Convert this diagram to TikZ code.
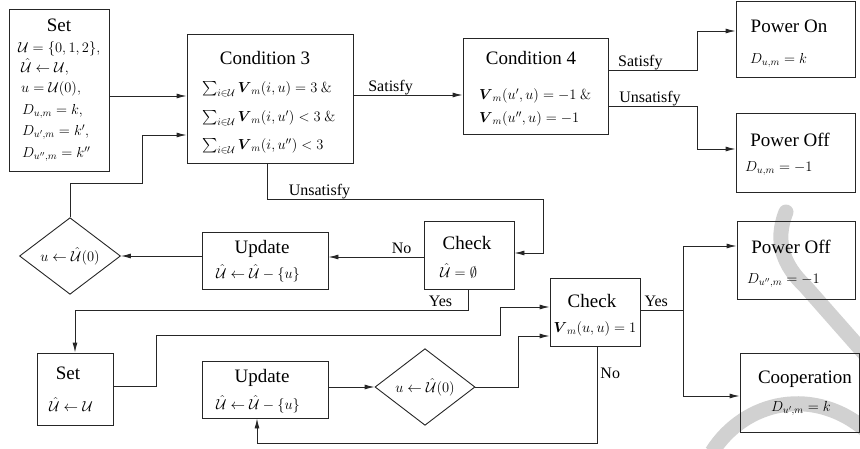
\RequirePackage{fix-cm}
\documentclass[tikz,border=0pt]{standalone}
\usepackage{amsmath}
\usepackage[no-math]{fontspec}
\setmainfont{Liberation Serif}
\newfontfamily\boxfont{Liberation Serif}
\usetikzlibrary{shapes.geometric,arrows.meta}
\begin{document}
\begin{tikzpicture}[x=1pt,y=-1pt]
	\tikzstyle{Box} = [rectangle, draw=black!85, line width=0.9pt, inner sep=0pt]
	\tikzstyle{Dia} = [diamond, draw=black!85, line width=0.9pt, inner sep=0pt, font=\fontsize{14.5}{17}\selectfont]
	\tikzstyle{Title} = [inner sep=0pt, text height=13pt, text depth=0pt, font=\boxfont\fontsize{19}{23}\selectfont]
	\tikzstyle{Math} = [inner sep=0pt, text height=9pt, text depth=0pt, font=\fontsize{14.5}{17}\selectfont]
	\tikzstyle{Lbl} = [inner sep=0pt, text height=11pt, text depth=0pt, font=\boxfont\fontsize{16}{19}\selectfont]
	\tikzstyle{Arr} = [-{Latex[length=10pt,width=5pt]}, draw=black!85, line width=0.9pt]
	\useasboundingbox (0,0) rectangle (860,448);
	% watermark
	\draw [black!18, line width=15pt, line cap=round] (786,212) .. controls (774,242) and (784,266) .. (805,286) -- (872,362);
	\draw [black!18, line width=15pt] (712,452) .. controls (745,400) and (815,385) .. (868,432);
	% first set
	\node (set1) at (59,90) [Box, minimum width=100, minimum height=162] {};
	\node (set1t) at (59,25) [Title] {Set};
	\node (set1a) at (18,48) [Math, anchor=west] {$\mathcal{U}=\{0,1,2\},$};
	\node (set1b) at (21,68) [Math, anchor=west] {$\hat{\mathcal{U}}\leftarrow\mathcal{U},$};
	\node (set1c) at (21,88) [Math, anchor=west] {$u=\mathcal{U}(0),$};
	\node (set1d) at (22,110) [Math, anchor=west] {$D_{u,m}=k,$};
	\node (set1e) at (22,131) [Math, anchor=west] {$D_{u',m}=k',$};
	\node (set1f) at (22,153) [Math, anchor=west] {$D_{u'',m}=k''$};
	% conditions
	\node (c3) at (270,98.5) [Box, minimum width=166, minimum height=129] {};
	\node (c3t) at (265,58) [Title] {Condition 3};
	\node (c3a) at (202,88) [Math, anchor=west] {$\sum_{i\in\mathcal{U}}\boldsymbol{V}_m(i,u)=3\ \&$};
	\node (c3b) at (202,117) [Math, anchor=west] {$\sum_{i\in\mathcal{U}}\boldsymbol{V}_m(i,u')<3\ \&$};
	\node (c3c) at (202,145) [Math, anchor=west] {$\sum_{i\in\mathcal{U}}\boldsymbol{V}_m(i,u'')<3$};
	\node (c4) at (535.5,86) [Box, minimum width=145, minimum height=96] {};
	\node (c4t) at (531,58) [Title] {Condition 4};
	\node (c4a) at (479,95) [Math, anchor=west] {$\boldsymbol{V}_m(u',u)=-1\ \&$};
	\node (c4b) at (479,118) [Math, anchor=west] {$\boldsymbol{V}_m(u'',u)=-1$};
	% results
	\node (pon) at (795.5,39) [Box, minimum width=119, minimum height=76] {};
	\node (pont) at (789,26) [Title] {Power On};
	\node (pona) at (750,59) [Math, anchor=west] {$D_{u,m}=k$};
	\node (poff1) at (795.5,152.5) [Box, minimum width=119, minimum height=79] {};
	\node (poff1t) at (790,140) [Title] {Power Off};
	\node (poff1a) at (745,167) [Math, anchor=west] {$D_{u,m}=-1$};
	\node (poff2) at (796,260) [Box, minimum width=118, minimum height=78] {};
	\node (poff2t) at (791,247) [Title] {Power Off};
	\node (poff2a) at (747,279) [Math, anchor=west] {$D_{u'',m}=-1$};
	\node (coop) at (799.75,392.5) [Box, minimum width=119.5, minimum height=79] {};
	\node (coopt) at (805,377) [Title] {Cooperation};
	\node (coopa) at (801,407) [Math] {$D_{u',m}=k$};
	% checks and updates
	\node (chk1) at (469,255) [Box, minimum width=90, minimum height=68] {};
	\node (chk1t) at (467,243) [Title] {Check};
	\node (chk1a) at (440,273) [Math, anchor=west] {$\hat{\mathcal{U}}=\emptyset$};
	\node (upd1) at (265,260.5) [Box, minimum width=126, minimum height=57] {};
	\node (upd1t) at (262,247) [Title] {Update};
	\node (upd1a) at (258,274) [Math] {$\hat{\mathcal{U}}\leftarrow\hat{\mathcal{U}}-\{u\}$};
	\node (d1) at (70,256) [Dia, minimum width=101, minimum height=76] {$u\leftarrow\hat{\mathcal{U}}(0)$};
	\node (set2) at (75,389) [Box, minimum width=76, minimum height=72] {};
	\node (set2t) at (68,373) [Title] {Set};
	\node (set2a) at (71,407) [Math] {$\hat{\mathcal{U}}\leftarrow\mathcal{U}$};
	\node (upd2) at (265,389.5) [Box, minimum width=126, minimum height=57] {};
	\node (upd2t) at (262,376) [Title] {Update};
	\node (upd2a) at (258,405) [Math] {$\hat{\mathcal{U}}\leftarrow\hat{\mathcal{U}}-\{u\}$};
	\node (d2) at (425,387) [Dia, minimum width=100, minimum height=76] {$u\leftarrow\hat{\mathcal{U}}(0)$};
	\node (chk2) at (595,312) [Box, minimum width=90, minimum height=68] {};
	\node (chk2t) at (592,301) [Title] {Check};
	\node (chk2a) at (595,328) [Math] {$\boldsymbol{V}_m(u,u)=1$};
	\coordinate (fork) at (683,310);
	% connectors
	\draw [Arr] (set1.east |- 0,96) -- (c3.west |- 0,96);
	\draw [Arr] (d1.north) -- (70,183) -- (142,183) -- (142,135) -- (c3.west |- 0,135);
	\draw [Arr] (c3.east |- 0,95) -- (c4.west |- 0,95) node [Lbl, pos=0.34, above=3pt] {Satisfy};
	\draw [Arr] (c4.east |- 0,70) -- (697,70) node [Lbl, pos=0.36, above=3pt] {Satisfy} -- (697,31) -- (pon.west |- 0,31);
	\draw [Arr] (c4.east |- 0,106) -- (697,106) node [Lbl, pos=0.47, above=3pt] {Unsatisfy} -- (697,149) -- (poff1.west |- 0,149);
	\draw [Arr] (c3.south -| 267,0) -- (267,199) -- (543,199) node [Lbl, pos=0.19, above=3pt] {Unsatisfy} -- (543,253) -- (chk1.east |- 0,253);
	\draw [Arr] (chk1.west |- 0,257) -- (upd1.east |- 0,257) node [Lbl, pos=0.23, above=3pt] {No};
	\draw [Arr] (upd1.west |- d1.east) -- (d1.east);
	\draw [Arr] (chk1.south -| 468,0) -- (468,310) -- (set2.north |- 0,310) node [Lbl, pos=0.07, above=3pt] {Yes} -- (set2.north);
	\draw [Arr] (set2.east |- 0,386) -- (156,386) -- (156,335) -- (500,335) -- (500,307) -- (chk2.west |- 0,307);
	\draw [Arr] (upd2.east |- d2.west) -- (d2.west);
	\draw [Arr] (d2.east) -- (518,387) -- (518,336) -- (chk2.west |- 0,336);
	\draw [Arr] (chk2.east |- fork) -- (fork) node [Lbl, pos=0.37, above=3pt] {Yes} -- (683,246) -- (poff2.west |- 0,246);
	\draw [Arr] (fork) -- (683,396) -- (coop.west |- 0,396);
	\draw [Arr] (chk2.south -| 597,0) -- (597,443) node [Lbl, pos=0.28, right=3pt] {No} -- (257,443) -- (upd2.south -| 257,0);
\end{tikzpicture}
\end{document}
